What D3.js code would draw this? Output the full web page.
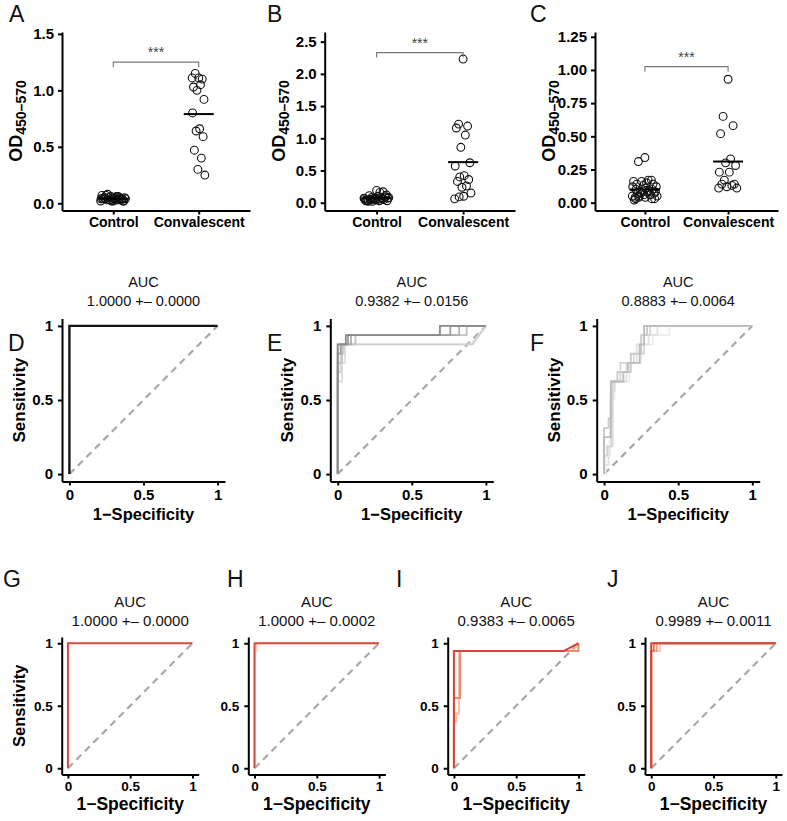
<!DOCTYPE html>
<html>
<head>
<meta charset="utf-8">
<script src="https://cdn.jsdelivr.net/npm/d3@7"></script>
<style>
  body { margin: 0; background: #fff; }
  svg { display: block; font-family: "Liberation Sans", Arial, Helvetica, sans-serif; }
</style>
</head>
<body>
<svg id="fig" width="787" height="821"></svg>
<script>
// ---- data: ELISA OD values ----
const groups = ['Control', 'Convalescent'];

const controlA = [0.02, 0.03, 0.05, 0.04, 0.06, 0.03, 0.02, 0.07, 0.04, 0.05, 0.03, 0.04, 0.06, 0.02, 0.05, 0.04,
  0.03, 0.08, 0.04, 0.05, 0.03, 0.06, 0.02, 0.04, 0.05, 0.03, 0.04, 0.07, 0.03, 0.05, 0.04, 0.02];
const convalescentA = [1.11, 1.15, 1.10, 1.03, 1.05, 1.00, 0.92, 0.80, 0.66, 0.64, 0.59, 0.47, 0.40, 0.30, 0.25, 1.11];
const meansA = [0.04, 0.79];
const ticksA = [0, 0.5, 1, 1.5];
const bracketA = 1.25;

const controlB = [0.19, 0.05, 0.17, 0.03, 0.16, 0.06, 0.12, 0.04, 0.10, 0.08, 0.09, 0.02, 0.08, 0.07, 0.07, 0.06,
  0.06, 0.05, 0.05, 0.04, 0.04, 0.04, 0.03, 0.03, 0.03, 0.02, 0.09, 0.11, 0.06, 0.05, 0.08, 0.07];
const convalescentB = [2.23, 1.22, 1.19, 1.16, 1.05, 0.86, 0.62, 0.57, 0.42, 0.40, 0.36, 0.33, 0.26, 0.24, 0.15, 0.06, 0.10, 0.09];
const meansB = [0.07, 0.63];
const ticksB = [0, 0.5, 1, 1.5, 2, 2.5];
const bracketB = 2.33;

const controlC = [0.34, 0.31, 0.17, 0.04, 0.17, 0.16, 0.03, 0.16, 0.15, 0.08, 0.14, 0.14, 0.06, 0.13, 0.12, 0.12,
  0.11, 0.05, 0.10, 0.10, 0.09, 0.09, 0.08, 0.02, 0.08, 0.07, 0.07, 0.07, 0.06, 0.06, 0.05, 0.05, 0.04, 0.04, 0.03, 0.03];
const convalescentC = [0.93, 0.65, 0.58, 0.52, 0.33, 0.30, 0.28, 0.23, 0.23, 0.17, 0.14, 0.14, 0.13, 0.12, 0.11, 0.11];
const meansC = [0.10, 0.31];
const ticksC = [0, 0.25, 0.5, 0.75, 1, 1.25];
const bracketC = 1.025;

const significance = '***';

// ---- data: ROC curves as [1-specificity, sensitivity] steps ----
const rocTicks = [0, 0.5, 1];

const aucD = '1.0000 +\u2013 0.0000';
const rocD = [
  [[0, 0], [0, 1], [1, 1]]
];

const aucE = '0.9382 +\u2013 0.0156';
const rocE = [
  [[0, 0], [0, 0.625], [0.03, 0.625], [0.03, 0.75], [0.05, 0.75], [0.05, 0.875], [0.9, 0.875], [1, 1]],
  [[0, 0], [0, 0.6875], [0.02, 0.6875], [0.02, 0.8125], [0.04, 0.8125], [0.04, 0.875], [0.91, 0.875], [1, 1]],
  [[0, 0], [0, 0.75], [0.03, 0.75], [0.03, 0.875], [0.12, 0.875], [0.12, 0.9375], [0.87, 0.9375], [0.87, 1], [1, 1]],
  [[0, 0], [0, 0.875], [0.09, 0.875], [0.09, 0.9375], [0.82, 0.9375], [0.82, 1], [1, 1]],
  [[0, 0], [0, 0.8125], [0.02, 0.8125], [0.02, 0.875], [0.07, 0.875], [0.07, 0.9375], [0.76, 0.9375], [0.76, 1], [1, 1]],
  [[0, 0], [0, 0.875], [0.055, 0.875], [0.055, 0.9375], [0.69, 0.9375], [0.69, 1], [1, 1]]
];

const aucF = '0.8883 +\u2013 0.0064';
const rocF = [
  [[0, 0], [0.01, 0], [0.01, 0.125], [0.04, 0.125], [0.04, 0.5], [0.07, 0.5], [0.07, 0.625], [0.17, 0.625], [0.17, 0.75],
    [0.25, 0.75], [0.25, 0.875], [0.33, 0.875], [0.33, 0.9375], [0.44, 0.9375], [0.44, 1], [1, 1]],
  [[0, 0], [0, 0.0625], [0.03, 0.0625], [0.03, 0.1875], [0.06, 0.1875], [0.06, 0.625], [0.15, 0.625], [0.15, 0.75],
    [0.22, 0.75], [0.22, 0.875], [0.3, 0.875], [0.3, 0.9375], [0.36, 0.9375], [0.36, 1], [1, 1]],
  [[0, 0], [0, 0.125], [0.02, 0.125], [0.02, 0.1875], [0.05, 0.1875], [0.05, 0.5625], [0.07, 0.5625], [0.07, 0.625],
    [0.11, 0.625], [0.11, 0.75], [0.2, 0.75], [0.2, 0.8125], [0.27, 0.8125], [0.27, 0.9375], [0.31, 0.9375], [0.31, 1], [1, 1]],
  [[0, 0], [0, 0.3125], [0.03, 0.3125], [0.03, 0.375], [0.05, 0.375], [0.05, 0.625], [0.09, 0.625], [0.09, 0.6875],
    [0.18, 0.6875], [0.18, 0.8125], [0.25, 0.8125], [0.25, 0.9375], [0.29, 0.9375], [0.29, 1], [1, 1]],
  [[0, 0], [0, 0.25], [0.045, 0.25], [0.045, 0.625], [0.13, 0.625], [0.13, 0.6875], [0.16, 0.6875], [0.16, 0.75],
    [0.24, 0.75], [0.24, 0.875], [0.27, 0.875], [0.27, 1], [1, 1]]
];

const aucG = '1.0000 +\u2013 0.0000';
const rocG = [
  [[0, 0], [0, 1], [1, 1]]
];

const aucH = '1.0000 +\u2013 0.0002';
const rocH = [
  [[0, 0], [0, 0.9375], [0.015, 0.9375], [0.015, 1], [1, 1]],
  [[0, 0], [0, 1], [1, 1]]
];

const aucI = '0.9383 +\u2013 0.0065';
const rocI = [
  [[0, 0], [0, 0.375], [0.02, 0.375], [0.02, 0.4375], [0.04, 0.4375], [0.04, 0.9375], [0.96, 0.9375], [1, 1]],
  [[0, 0], [0, 0.5625], [0.05, 0.5625], [0.05, 0.9375], [1, 0.9375], [1, 1]],
  [[0, 0], [0, 0.9375], [0.88, 0.9375], [1, 1]]
];

const aucJ = '0.9989 +\u2013 0.0011';
const rocJ = [
  [[0, 0], [0, 0.9375], [0.07, 0.9375], [0.07, 1], [1, 1]],
  [[0, 0], [0, 0.9375], [0.045, 0.9375], [0.045, 1], [1, 1]],
  [[0, 0], [0, 0.9375], [0.02, 0.9375], [0.02, 1], [1, 1]],
  [[0, 0], [0, 1], [1, 1]]
];

// ---- drawing ----
const svg = d3.select('#fig');
const fontFamily = '"Liberation Sans", Arial, Helvetica, sans-serif';

// van der Corput sequence, used as a quasi-random jitter layout
function vdc(n) {
  let v = 0;
  let d = 1;
  while (n > 0) {
    d *= 2;
    v += (n % 2) / d;
    n = Math.floor(n / 2);
  }
  return v;
}

function styleAxis(g, size) {
  g.attr('font-size', size).attr('font-family', fontFamily);
  g.select('.domain').attr('stroke', '#000').attr('stroke-width', 2);
  g.selectAll('.tick line').attr('stroke', '#000').attr('stroke-width', 2);
  g.selectAll('.tick text').attr('fill', '#000').attr('font-weight', 'bold');
}

function panelLetter(x, y, label) {
  svg.append('text').attr('x', x).attr('y', y).attr('font-size', 23).attr('fill', '#111').text(label);
}

const scatterTop = 32;
const scatterBottom = 210.5;

function drawScatter(p) {
  const y = d3.scaleLinear().domain(p.lim).range([scatterBottom, scatterTop]);
  const x = d3.scalePoint().domain(groups).range([p.left, p.right]).padding(0.6);

  svg.append('g')
    .attr('transform', `translate(${p.left},0)`)
    .call(d3.axisLeft(y).tickValues(p.ticks).tickFormat(d3.format(p.fmt)).tickSize(4).tickPadding(4).tickSizeOuter(0))
    .call(styleAxis, 15);

  svg.append('g')
    .attr('transform', `translate(0,${scatterBottom})`)
    .call(d3.axisBottom(x).tickSize(4).tickPadding(3).tickSizeOuter(0))
    .call(styleAxis, 14);

  [p.control, p.convalescent].forEach((values, gi) => {
    const spread = p.spread[gi];
    svg.append('g')
      .selectAll('circle')
      .data(values)
      .join('circle')
      .attr('cx', (d, i) => x(groups[gi]) + (vdc(i + 1) * 2 - 1) * spread)
      .attr('cy', (d) => y(d))
      .attr('r', 3.9)
      .attr('fill', 'none')
      .attr('stroke', '#111')
      .attr('stroke-width', 1.1);
  });

  svg.append('g')
    .selectAll('line')
    .data(p.means)
    .join('line')
    .attr('x1', (d, i) => x(groups[i]) - 15)
    .attr('x2', (d, i) => x(groups[i]) + 15)
    .attr('y1', (d) => y(d))
    .attr('y2', (d) => y(d))
    .attr('stroke', '#000')
    .attr('stroke-width', 2);

  const x1 = x(groups[0]);
  const x2 = x(groups[1]);
  const by = y(p.bracket);
  svg.append('path')
    .attr('d', `M${x1},${by + 5}V${by}H${x2}V${by + 5}`)
    .attr('fill', 'none')
    .attr('stroke', '#777')
    .attr('stroke-width', 1.1);
  svg.append('text')
    .attr('x', (x1 + x2) / 2)
    .attr('y', by - 5)
    .attr('text-anchor', 'middle')
    .attr('font-size', 14)
    .attr('fill', '#444')
    .text(significance);

  const label = svg.append('text')
    .attr('transform', `translate(${p.left - 40},121) rotate(-90)`)
    .attr('text-anchor', 'middle')
    .attr('font-weight', 'bold')
    .attr('fill', '#000');
  label.append('tspan').attr('font-size', 18).text('OD');
  label.append('tspan').attr('font-size', 14).attr('dy', '0.3em').text('450\u2013570');

  panelLetter(p.letterX, 22, p.letter);
}

const rocColorsD = ['#141414'];
const rocColorsE = ['#dedede', '#cfcfcf', '#c2c2c2', '#b0b0b0', '#9e9e9e', '#8a8a8a'];
const rocColorsF = ['#ececec', '#e1e1e1', '#d5d5d5', '#c9c9c9', '#bcbcbc'];
const rocColorsG = ['#db4a3b'];
const rocColorsH = ['#f8cdbb', '#db4a3b'];
const rocColorsI = ['#f5bfa4', '#ea8b6b', '#d8433a'];
const rocColorsJ = ['#f8cdb9', '#f0a286', '#e6765c', '#d8443a'];

function drawRoc(p) {
  const x = d3.scaleLinear().domain([-0.05, 1.05]).range([p.axisX, p.axisX + p.width]);
  const y = d3.scaleLinear().domain([-0.05, 1.05]).range([p.bottom, p.top]);
  const fmt = (d) => (d === 0.5 ? '0.5' : String(d));

  svg.append('g')
    .attr('transform', `translate(${p.axisX},0)`)
    .call(d3.axisLeft(y).tickValues(rocTicks).tickFormat(fmt).tickSize(4).tickPadding(5).tickSizeOuter(0))
    .call(styleAxis, p.tickSize);

  svg.append('g')
    .attr('transform', `translate(0,${p.bottom})`)
    .call(d3.axisBottom(x).tickValues(rocTicks).tickFormat(fmt).tickSize(4).tickPadding(p.xPad).tickSizeOuter(0))
    .call(styleAxis, p.tickSize);

  svg.append('line')
    .attr('x1', x(0)).attr('y1', y(0))
    .attr('x2', x(1)).attr('y2', y(1))
    .attr('stroke', '#a8a8a8')
    .attr('stroke-width', 2.2)
    .attr('stroke-dasharray', '7,5');

  const line = d3.line().x((d) => x(d[0])).y((d) => y(d[1]));
  svg.append('g')
    .selectAll('path')
    .data(p.curves)
    .join('path')
    .attr('d', line)
    .attr('fill', 'none')
    .attr('stroke', (d, i) => p.colors[i])
    .attr('stroke-width', p.lineWidth)
    .attr('stroke-linejoin', 'miter');

  const cx = (x(0) + x(1)) / 2;
  svg.append('text')
    .attr('x', cx).attr('y', p.titleY)
    .attr('text-anchor', 'middle')
    .attr('font-size', p.titleSize)
    .attr('fill', '#111')
    .text('AUC');
  svg.append('text')
    .attr('x', cx).attr('y', p.titleY + 19)
    .attr('text-anchor', 'middle')
    .attr('font-size', p.titleSize)
    .attr('fill', '#111')
    .text(p.auc);

  svg.append('text')
    .attr('x', cx).attr('y', p.xLabelY)
    .attr('text-anchor', 'middle')
    .attr('font-size', p.xLabelSize)
    .attr('font-weight', 'bold')
    .attr('fill', '#000')
    .text('1\u2212Specificity');

  if (p.yLabel) {
    svg.append('text')
      .attr('transform', `translate(${p.axisX - 37},${(p.top + p.bottom) / 2}) rotate(-90)`)
      .attr('text-anchor', 'middle')
      .attr('font-size', p.yLabelSize)
      .attr('font-weight', 'bold')
      .attr('fill', '#000')
      .text('Sensitivity');
  }

  panelLetter(p.letterX, p.letterY, p.letter);
}

drawScatter({ letter: 'A', letterX: 9, left: 62, right: 250, lim: [-0.064, 1.517], ticks: ticksA, fmt: '.1f',
  control: controlA, convalescent: convalescentA, means: meansA, bracket: bracketA, spread: [13, 7] });
drawScatter({ letter: 'B', letterX: 267, left: 324.7, right: 515, lim: [-0.121, 2.65], ticks: ticksB, fmt: '.1f',
  control: controlB, convalescent: convalescentB, means: meansB, bracket: bracketB, spread: [13, 9] });
drawScatter({ letter: 'C', letterX: 530, left: 595, right: 778, lim: [-0.059, 1.286], ticks: ticksC, fmt: '.2f',
  control: controlC, convalescent: convalescentC, means: meansC, bracket: bracketC, spread: [13, 10] });

const topRow = { width: 163, top: 318.5, bottom: 481.5, tickSize: 15, xPad: 4, titleSize: 14.5, titleY: 287,
  xLabelY: 520, xLabelSize: 16.5, yLabelSize: 17, letterY: 351 };
const bottomRow = { width: 137, top: 637, bottom: 774.5, tickSize: 13.5, xPad: 3, titleSize: 15, titleY: 607,
  xLabelY: 810, xLabelSize: 17.5, yLabelSize: 16.5, letterY: 587 };

drawRoc({ ...topRow, letter: 'D', letterX: 8, axisX: 62, curves: rocD, colors: rocColorsD, lineWidth: 2.4, auc: aucD, yLabel: true });
drawRoc({ ...topRow, letter: 'E', letterX: 267, axisX: 330.3, curves: rocE, colors: rocColorsE, lineWidth: 1.8, auc: aucE, yLabel: true });
drawRoc({ ...topRow, letter: 'F', letterX: 530, axisX: 596.7, curves: rocF, colors: rocColorsF, lineWidth: 1.8, auc: aucF, yLabel: true });

drawRoc({ ...bottomRow, letter: 'G', letterX: 3, axisX: 61.7, curves: rocG, colors: rocColorsG, lineWidth: 2, auc: aucG, yLabel: true });
drawRoc({ ...bottomRow, letter: 'H', letterX: 227, axisX: 248.3, curves: rocH, colors: rocColorsH, lineWidth: 2, auc: aucH, yLabel: false });
drawRoc({ ...bottomRow, letter: 'I', letterX: 396, axisX: 447.7, curves: rocI, colors: rocColorsI, lineWidth: 2, auc: aucI, yLabel: false });
drawRoc({ ...bottomRow, letter: 'J', letterX: 607, axisX: 645, curves: rocJ, colors: rocColorsJ, lineWidth: 2, auc: aucJ, yLabel: false });
</script>
</body>
</html>
